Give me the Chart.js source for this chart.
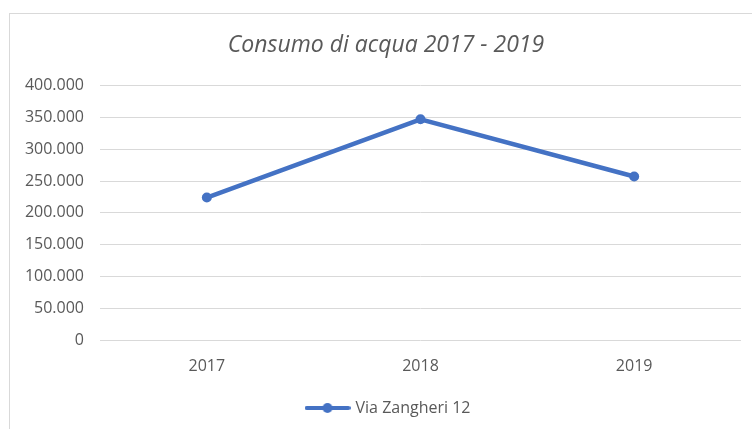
<!DOCTYPE html>
<html>
<head>
<meta charset="utf-8">
<script src="https://cdn.jsdelivr.net/npm/chart.js@4.4.0/dist/chart.umd.min.js"></script>
<style>
  html, body { margin: 0; padding: 0; background: #ffffff; }
  #wrap { position: relative; width: 752px; height: 429px; overflow: hidden; }
  #frame { position: absolute; left: 9px; top: 13px; width: 800px; height: 500px; border: 1px solid #d9d9d9; box-sizing: border-box; }
  canvas { position: absolute; left: 0; top: 0; }
</style>
</head>
<body>
<div id="wrap">
  <div id="frame"></div>
  <canvas id="c" width="752" height="429"></canvas>
</div>
<script>
const categories = ['2017', '2018', '2019'];
const seriesName = 'Via Zangheri 12';
const seriesValues = [224000, 347000, 257000];
const yTickValues = [0, 50000, 100000, 150000, 200000, 250000, 300000, 350000, 400000];
const chartTitle = 'Consumo di acqua 2017 - 2019';

const LINE_COLOR = '#4472C4';
const TEXT_COLOR = '#595959';
const GRID_COLOR = '#d9d9d9';
const FONT = "'Open Sans', sans-serif";

function fmt(v) {
  return String(v).replace(/\B(?=(\d{3})+(?!\d))/g, '.');
}

// legend marker: line with a circle
const marker = document.createElement('canvas');
marker.width = 46; marker.height = 12;
(function () {
  const g = marker.getContext('2d');
  g.strokeStyle = LINE_COLOR; g.lineWidth = 4; g.lineCap = 'round';
  g.beginPath(); g.moveTo(2, 6); g.lineTo(44, 6); g.stroke();
  g.fillStyle = LINE_COLOR;
  g.beginPath(); g.arc(23, 6, 5, 0, Math.PI * 2); g.fill();
})();

// shift the centring box of title and legend (the chart frame extends to the right of the view)
const recenter = {
  id: 'recenter',
  afterLayout(chart) {
    if (chart.titleBlock) { chart.titleBlock.left = 31; }
    if (chart.legend) { chart.legend.left = 37; }
  }
};

new Chart(document.getElementById('c'), {
  type: 'line',
  plugins: [recenter],
  data: {
    labels: categories,
    datasets: [{
      label: seriesName,
      data: seriesValues,
      borderColor: LINE_COLOR,
      backgroundColor: LINE_COLOR,
      borderWidth: 4.5,
      pointRadius: 5,
      pointHoverRadius: 5,
      pointBackgroundColor: LINE_COLOR,
      pointBorderWidth: 0,
      tension: 0,
      fill: false
    }]
  },
  options: {
    responsive: false,
    animation: false,
    layout: { padding: { left: 0, right: 11, top: 0, bottom: 3 } },
    plugins: {
      title: {
        display: true,
        text: chartTitle,
        color: TEXT_COLOR,
        font: { family: FONT, size: 23, style: 'italic', weight: 'normal' },
        padding: { top: 32, bottom: 26 }
      },
      legend: {
        display: true,
        position: 'bottom',
        labels: {
          color: TEXT_COLOR,
          font: { family: FONT, size: 16 },
          usePointStyle: true,
          pointStyleWidth: 40,
          generateLabels: (chart) => chart.data.datasets.map((ds, i) => ({
            text: ds.label,
            pointStyle: marker,
            fontColor: TEXT_COLOR,
            strokeStyle: LINE_COLOR,
            fillStyle: LINE_COLOR,
            lineWidth: 0,
            hidden: false,
            datasetIndex: i
          })),
          boxHeight: 12,
          padding: 6
        }
      },
      tooltip: { enabled: false }
    },
    scales: {
      x: {
        offset: true,
        grid: { display: false, drawTicks: false },
        border: { display: false },
        ticks: { color: TEXT_COLOR, font: { family: FONT, size: 16 }, padding: 17, maxRotation: 0 },
        afterFit: (s) => { s.height = 54; }
      },
      y: {
        min: 0,
        max: 400000,
        afterBuildTicks: (s) => { s.ticks = yTickValues.map(v => ({ value: v })); },
        grid: { color: GRID_COLOR, lineWidth: 1, drawTicks: false },
        border: { display: false },
        ticks: {
          color: TEXT_COLOR,
          font: { family: FONT, size: 16 },
          padding: 16,
          callback: (v) => fmt(v)
        },
        afterFit: (s) => { s.width = 100; }
      }
    }
  }
});
</script>
</body>
</html>
